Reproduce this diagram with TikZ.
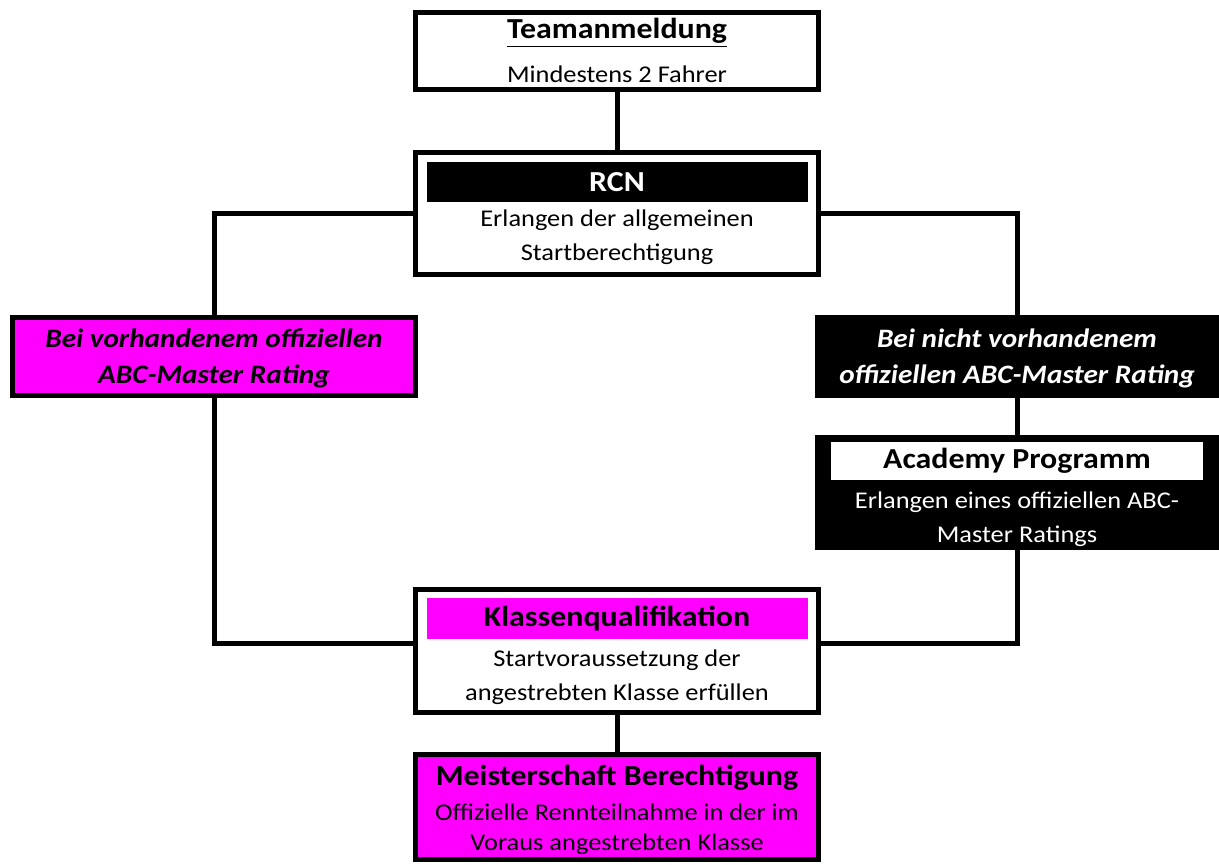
\documentclass[tikz,border=0pt]{standalone}
\usepackage{fontspec}
\setmainfont{Carlito}[FakeStretch=1.1]
\usetikzlibrary{positioning}
\definecolor{pinkbox}{HTML}{FF00FF}

\begin{document}
\begin{tikzpicture}[
            x = 0.5pt, y = -0.5pt, % one unit = one pixel of the original
            line width = 2.5pt, % thick frames and lines
            node distance = 0pt
        ]

        \tikzstyle{box}=[
            draw = black,
            line width = 2.5pt,
            rectangle,
            minimum width = 201.5pt,
            inner sep = 0pt,
            align = center
        ]
        \tikzstyle{bar}=[
            minimum width = 190.5pt,
            minimum height = 20pt,
            inner sep = 0pt,
            font = \fontsize{14.5}{17}\selectfont\bfseries
        ]
        \tikzstyle{body}=[
            align = center,
            inner sep = 0pt,
            font = \fontsize{12}{17}\selectfont
        ]
        \tikzstyle{branch}=[
            box,
            minimum height = 39pt,
            text depth = 0pt,
            font = \fontsize{13.3}{18}\selectfont\bfseries\itshape
        ]

        \useasboundingbox (0,0) rectangle (1219,864);

        % boxes
        \node[box, minimum height = 38.5pt] (team) at (617,51) {};
        \node[box, minimum height = 61pt] (rcn) at (617,213.5) {};
        \node[branch, fill = pinkbox] (have) at (214,356.5)
              {Bei vorhandenem offiziellen\\ABC-Master Rating};
        \node[branch, minimum width = 199.5pt, fill = black, text = white] (nohave) at (1017,356.5)
              {Bei nicht vorhandenem\\offiziellen ABC-Master Rating};
        \node[box, minimum width = 199.5pt, minimum height = 55pt, fill = black] (acad) at (1017,492.5) {};
        \node[box, minimum height = 61.5pt] (klasse) at (617,651) {};
        \node[box, minimum height = 52.5pt, fill = pinkbox] (meister) at (617,807) {};

        % titles and texts
        \node[bar, below = 0pt of team.north] (teamtitle) {\underline{Teamanmeldung}};
        \node[body, below = 4pt of teamtitle] (teambody) {Mindestens 2 Fahrer};

        \node[bar, fill = black, text = white, below = 4.75pt of rcn.north] (rcnbar) {RCN};
        \node[body, below = 1.5pt of rcnbar] (rcnbody) {Erlangen der allgemeinen\\Startberechtigung};

        \node[bar, fill = white, minimum width = 186pt, minimum height = 19pt,
              below = 2.25pt of acad.north] (acadbar) {Academy Programm};
        \node[body, text = white, below = 3.5pt of acadbar] (acadbody) {Erlangen eines offiziellen ABC-\\Master Ratings};

        \node[bar, fill = pinkbox, minimum height = 20.5pt, below = 4.25pt of klasse.north] (klassebar) {Klassenqualifikation};
        \node[body, below = 3pt of klassebar] (klassebody) {Startvoraussetzung der\\angestrebten Klasse erfüllen};

        \node[bar, below = 1.5pt of meister.north] (meistertitle) {Meisterschaft Berechtigung};
        \node[body, font = \fontsize{12}{15}\selectfont, below = 0.5pt of meistertitle] (meisterbody)
              {Offizielle Rennteilnahme in der im\\Voraus angestrebten Klasse};

        % connections
        \draw (team) -- (rcn);
        \draw (rcn.west) -| (have.north);
        \draw (rcn.east) -| (nohave.north);
        \draw (nohave) -- (acad);
        \draw (have.south) |- ([yshift=4pt]klasse.west);
        \draw (acad.south) |- ([yshift=4pt]klasse.east);
        \draw (klasse) -- (meister);

    \end{tikzpicture}
\end{document}
